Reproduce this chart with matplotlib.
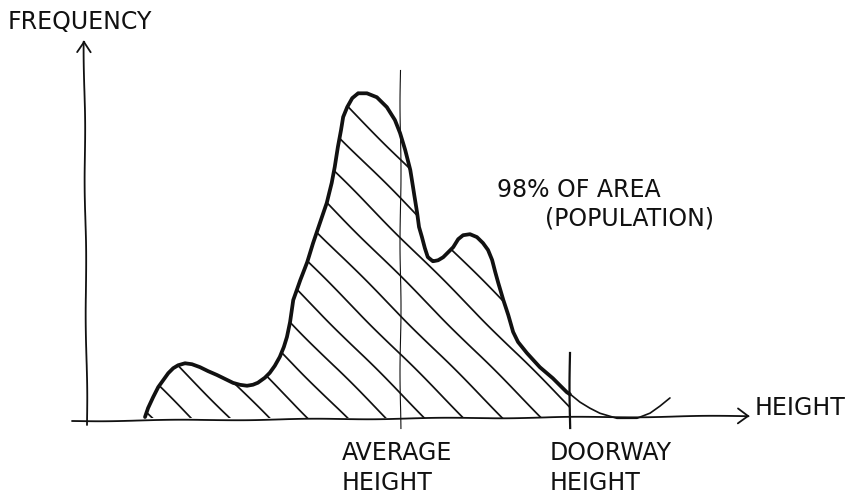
import numpy as np
import matplotlib
matplotlib.use("Agg")
import matplotlib.pyplot as plt

# Height distribution (arbitrary units): sampled outline of the curve
height = [5.8, 6.1, 6.6, 7.1, 7.6, 8.1, 8.6, 9.1, 9.8, 10.5, 11.3, 12.1,
          13.0, 13.8, 14.6, 15.3, 16.0, 16.6, 17.1, 17.8, 18.3, 18.8, 19.3,
          19.7, 20.0, 20.3, 20.6, 21.3, 22.0, 22.6, 23.3, 24.0, 24.5, 24.8,
          25.1, 25.4, 25.6, 26.0, 26.5, 27.1, 28.0, 29.0, 30.0, 30.8, 31.3,
          31.8, 32.3, 32.7, 33.0, 33.2, 33.5, 33.8, 34.1, 34.6, 35.1, 35.6,
          36.1, 36.6, 37.1, 37.6, 38.3, 39.0, 39.6, 40.1, 40.5, 40.8, 41.1,
          41.6, 42.1, 42.6, 43.1, 44.0, 45.3, 46.6, 48.0, 48.3,
          49.3, 50.3, 51.3, 53.0, 55.0, 56.3, 57.3, 58.3]
frequency = [0.1, 1.0, 2.1, 3.1, 3.8, 4.5, 5.0, 5.3, 5.5, 5.4, 5.1, 4.7,
             4.3, 3.9, 3.5, 3.3, 3.2, 3.3, 3.5, 4.0, 4.5, 5.2, 6.1,
             7.1, 8.1, 9.6, 11.8, 13.8, 15.6, 17.5, 19.5, 21.5, 23.5, 25.1,
             27.1, 28.8, 30.1, 31.1, 32.0, 32.5, 32.5, 32.1, 31.1, 29.8, 28.5,
             26.8, 24.8, 22.3, 20.5, 19.1, 18.1, 17.0, 16.1, 15.7, 15.8, 16.1,
             16.6, 17.1, 17.9, 18.3, 18.4, 18.1, 17.5, 16.8, 15.8, 14.6, 13.5,
             11.8, 10.3, 8.6, 7.6, 6.5, 5.1, 4.0, 2.6, 2.4,
             1.6, 1.0, 0.5, 0.0, 0.0, 0.5, 1.2, 2.0]

average_height = 31.3
doorway_height = 48.3

# Axis extents
x_axis = [-1.5, 66.3]
y_axis = [-0.7, 37.8]

# Hatching: lines x + y = c
hatch_start = 6.5
hatch_step = 3.9

plt.rcParams["font.family"] = ["DejaVu Sans"]
plt.rcParams["path.sketch"] = (0.5, 140, 1.5)

ink = "#111111"
fs = 17

fig = plt.figure(figsize=(8.49, 4.94), dpi=100)
ax = fig.add_axes([0, 0, 1, 1])
ax.set_xlim(-8.7, 76.2)
ax.set_ylim(-7.6, 41.8)
ax.axis("off")

h = np.array(height)
f = np.array(frequency)
body = h <= doorway_height + 1e-9
tail = h >= doorway_height - 1e-9

# Axes with open arrowheads
ax.annotate("", xy=(x_axis[1], 0.2), xytext=(x_axis[0], -0.3),
            arrowprops=dict(arrowstyle="->,head_length=0.75,head_width=0.55",
                            lw=1.3, color=ink, shrinkA=0, shrinkB=0))
ax.annotate("", xy=(-0.3, y_axis[1]), xytext=(0.0, y_axis[0]),
            arrowprops=dict(arrowstyle="->,head_length=0.75,head_width=0.5",
                            lw=1.3, color=ink, shrinkA=0, shrinkB=0))

# Hatched area up to the doorway height
region = ax.fill_between(h[body], f[body], 0, facecolor="none",
                         edgecolor="none")
clip = region.get_paths()[0]
for c in np.arange(hatch_start, 65, hatch_step):
    ln, = ax.plot([c - 40, c + 1], [40, -1], color=ink, lw=1.25)
    ln.set_clip_path(clip, ax.transData)

# Reference lines
ax.plot([average_height, average_height], [34.8, -1.0], color=ink, lw=0.8)
ax.plot([doorway_height, doorway_height], [6.5, -1.0], color=ink, lw=1.6)

# Distribution outline: bold up to the doorway, thin beyond it
outline, = ax.plot(h[body], f[body], color=ink, lw=2.7,
                   solid_capstyle="round", solid_joinstyle="round", zorder=5)
outline.set_sketch_params(0.3, 200, 1)
tail_line, = ax.plot(h[tail], f[tail], color=ink, lw=1.2,
                     solid_capstyle="round", solid_joinstyle="round", zorder=5)
tail_line.set_sketch_params(0.3, 200, 1)

# Labels
ax.text(-7.9, 38.9, "FREQUENCY", fontsize=fs, color=ink, va="baseline")
ax.text(66.8, 0.3, "HEIGHT", fontsize=fs, color=ink, va="baseline")
ax.text(41.0, 22.1, "98% OF AREA", fontsize=fs, color=ink, va="baseline")
ax.text(45.8, 19.3, "(POPULATION)", fontsize=fs, color=ink, va="baseline")
ax.text(25.5, -4.2, "AVERAGE", fontsize=fs, color=ink, va="baseline")
ax.text(25.5, -7.2, "HEIGHT", fontsize=fs, color=ink, va="baseline")
ax.text(46.3, -4.2, "DOORWAY", fontsize=fs, color=ink, va="baseline")
ax.text(46.3, -7.2, "HEIGHT", fontsize=fs, color=ink, va="baseline")

fig.savefig("out.png", dpi=100, facecolor="white")
